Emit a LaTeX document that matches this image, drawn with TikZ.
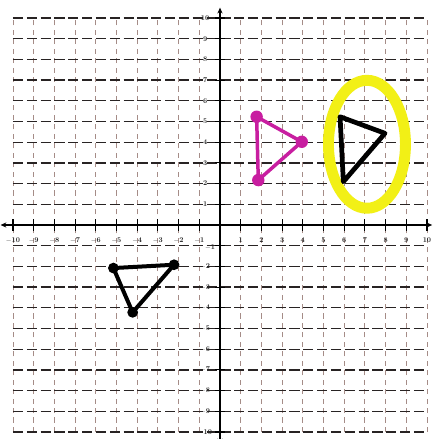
\documentclass[tikz,border=0pt]{standalone}
\usetikzlibrary{arrows.meta}
\definecolor{pinkpen}{RGB}{200,30,160}
\definecolor{hilite}{RGB}{242,240,22}
\definecolor{hgrid}{RGB}{40,35,35}
\definecolor{vgrid}{RGB}{165,140,135}
\tikzset{
  hline/.style={hgrid, line width=1.9pt, dash pattern=on 14pt off 5pt},
  vline/.style={vgrid, line width=1.1pt, dash pattern=on 7pt off 6pt},
  axisline/.style={black, line width=2.6pt, {Stealth[length=8pt,width=7pt]}-{Stealth[length=8pt,width=7pt]}},
  ticklab/.style={font=\fontsize{10}{11}\selectfont\bfseries, inner sep=0pt, text=black!85},
  pdot/.style={circle, fill=pinkpen, inner sep=0pt, minimum size=0.6cm},
  bdot/.style={circle, fill=black, inner sep=0pt, minimum size=0.52cm},
  pinktri/.style={pinkpen, line width=4.8pt, line join=round, line cap=round},
  blacktri/.style={black, line width=6.5pt, line join=round, line cap=round},
  blacktritwo/.style={black, line width=5.5pt, line join=round, line cap=round},
  hiring/.style={hilite, line width=15pt}
}
\begin{document}
\begin{tikzpicture}[x=1cm,y=1cm]
\useasboundingbox[fill=white] (-10.628,-10.338) rectangle (10.290,10.870);
% grid
\foreach \i in {-10,...,10} {
  \draw[vline] (\i,-10) -- (\i,10);
}
\foreach \j in {-10,...,10} {
  \draw[hline] (-10,\j) -- (10,\j);
}
% axes
\draw[axisline] (-10.6,0) -- (10.25,0);
\draw[axisline] (0,-10.6) -- (0,10.5);
% ticks and labels
\foreach \i in {-10,...,-1,1,2,...,10} {
  \draw[black, line width=1.6pt] (\i,-0.28) -- (\i,0.28);
  \node[ticklab] at (\i,-0.75) {$\mathbf{\i}$};
  \draw[black, line width=1.6pt] (-0.25,\i) -- (0.25,\i);
}
\foreach \i in {-10,...,-2,1,2,...,10} {
  \node[ticklab] at (-0.72,\i) {$\mathbf{\i}$};
}
\node[ticklab] at (-0.48,-1.1) {$\mathbf{-1}$};
% highlight ellipse
\draw[hiring] (7.10,3.90) ellipse [x radius=1.86, y radius=3.09];
% pink triangle
\coordinate (pa) at (1.77,5.23);
\coordinate (pb) at (3.95,4.02);
\coordinate (pc) at (1.85,2.17);
\draw[pinktri] (pa) -- (pb) -- (pc) -- cycle;
\node[pdot] (pda) at (pa) {};
\node[pdot] (pdb) at (pb) {};
\node[pdot] (pdc) at (pc) {};
% black triangle (right)
\coordinate (ra) at (5.80,5.23);
\coordinate (rb) at (7.97,4.43);
\coordinate (rc) at (5.96,2.09);
\draw[blacktri] (ra) -- (rb) -- (rc) -- cycle;
% black triangle (left)
\coordinate (la) at (-5.15,-2.08);
\coordinate (lb) at (-2.22,-1.92);
\coordinate (lc) at (-4.22,-4.22);
\draw[blacktritwo] (la) -- (lb) -- (lc) -- cycle;
\node[bdot] (lda) at (la) {};
\node[bdot] (ldb) at (lb) {};
\node[bdot] (ldc) at (lc) {};
\end{tikzpicture}
\end{document}
